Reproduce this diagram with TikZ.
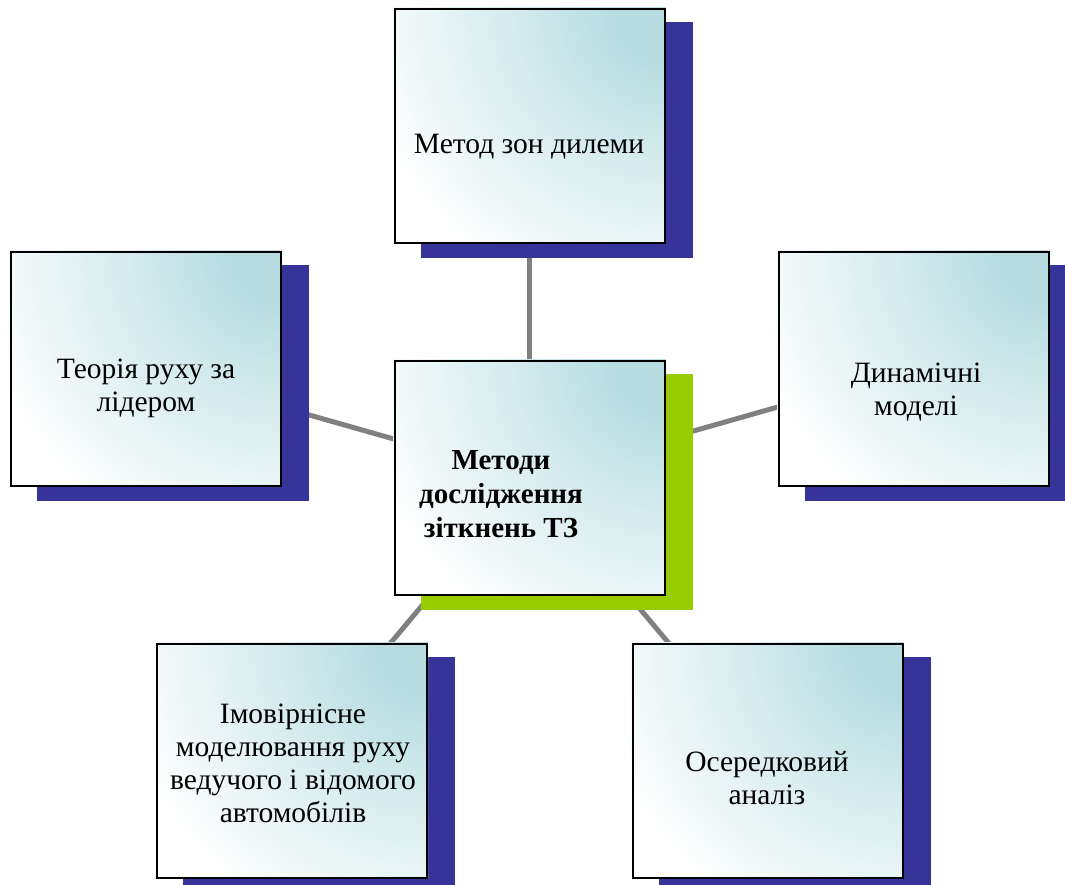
\documentclass[tikz,border=0pt]{standalone}
\usepackage{fontspec}
\setmainfont{Liberation Serif}
\definecolor{tealglow}{RGB}{183,221,225}
\definecolor{navyshadow}{RGB}{54,51,153}
\definecolor{limeshadow}{RGB}{153,204,0}
\definecolor{linkgray}{RGB}{128,128,128}
\pgfdeclareradialshading{cornerglow}{\pgfpointorigin}{color(0bp)=(tealglow); color(4bp)=(tealglow); color(11bp)=(tealglow!60!white); color(23bp)=(white); color(25bp)=(white); color(50bp)=(white)}
\pgfdeclarelayer{links}
\pgfdeclarelayer{shadows}
\pgfdeclarelayer{fills}
\pgfsetlayers{links,shadows,fills,main}
\tikzset{
  x=1pt, y=-1pt,
  card/.style={draw=black, line width=2pt, rectangle, minimum width=270pt, minimum height=234pt, inner sep=0pt},
  cardtext/.style={align=center, inner sep=0pt, font=\fontsize{29.5}{33}\selectfont},
  hubtext/.style={align=center, inner sep=0pt, font=\fontsize{29}{34}\selectfont\bfseries},
  link/.style={draw=linkgray, line width=5pt},
}
\newcommand\cardbg[2]{% #1 node name, #2 shadow colour
  \begin{pgfonlayer}{shadows}
    \fill[#2] ([shift={(27pt,-14pt)}]#1.south west) rectangle ([shift={(27pt,-14pt)}]#1.north east);
  \end{pgfonlayer}
  \begin{pgfonlayer}{fills}
    \begin{scope}
      \clip (#1.south west) rectangle (#1.north east);
      \fill[white] (#1.south west) rectangle (#1.north east);
      \shade[shading=cornerglow] (#1.north east) circle (340pt);
    \end{scope}
  \end{pgfonlayer}
}
\begin{document}
\begin{tikzpicture}
\useasboundingbox (0,0) rectangle (1065,884);
\clip (0,0) rectangle (1065,884);
% cards
\node[card] (hub) at (529.5,477.5) {};
\node[card] (top) at (529.5,125.5) {};
\node[card] (left) at (145.5,368.5) {};
\node[card] (right) at (913.5,368.5) {};
\node[card] (bl) at (292,760.5) {};
\node[card] (br) at (767.5,760.5) {};
% texts
\node[hubtext] (thub) at (501,494.5) {Методи\\дослідження\\зіткнень ТЗ};
\node[cardtext] (ttop) at (529,146.5) {Метод зон дилеми};
\node[cardtext] (tleft) at (146,388) {Теорія руху за\\лідером};
\node[cardtext] (tright) at (916,392.5) {Динамічні\\моделі};
\node[cardtext] (tbl) at (293,763) {Імовірнісне\\моделювання руху\\ведучого і відомого\\автомобілів};
\node[cardtext] (tbr) at (767,778) {Осередковий\\аналіз};
% backgrounds
\cardbg{hub}{limeshadow}
\cardbg{top}{navyshadow}
\cardbg{left}{navyshadow}
\cardbg{right}{navyshadow}
\cardbg{bl}{navyshadow}
\cardbg{br}{navyshadow}
% links
\begin{pgfonlayer}{links}
  \draw[link] (hub.center) -- (top.center);
  \draw[link] (hub.center) -- (left.center);
  \draw[link] (hub.center) -- (right.center);
  \draw[link] (hub.center) -- (bl.center);
  \draw[link] (hub.center) -- (br.center);
\end{pgfonlayer}
\end{tikzpicture}
\end{document}
